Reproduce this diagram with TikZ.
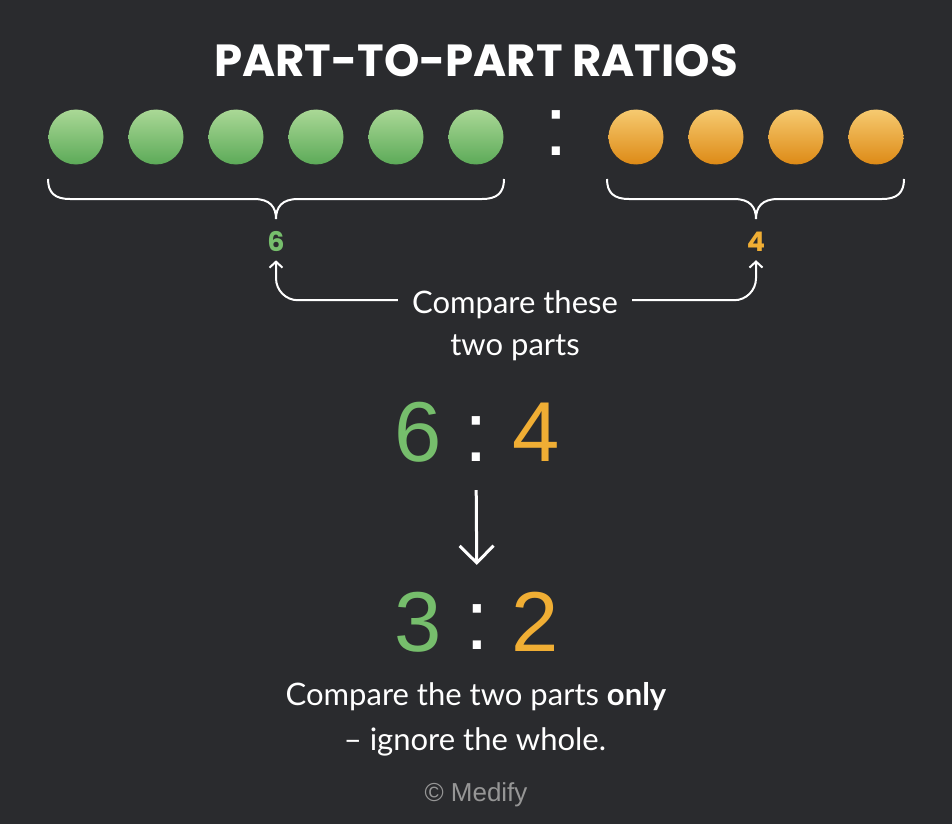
\documentclass[tikz,border=0pt]{standalone}
\usepackage{fontspec}
\setmainfont{Liberation Sans}
\newfontfamily\titlefont{Poppins}
\newfontfamily\handfont{Lato}
\usetikzlibrary{arrows.meta}
\definecolor{bgdark}{RGB}{42,43,46}
\definecolor{greentop}{RGB}{170,216,150}
\definecolor{greenbot}{RGB}{92,170,88}
\definecolor{ambertop}{RGB}{246,202,112}
\definecolor{amberbot}{RGB}{221,138,22}
\definecolor{greentxt}{RGB}{118,190,108}
\definecolor{ambertxt}{RGB}{240,174,52}
\definecolor{creditgray}{RGB}{150,150,150}

\begin{document}
\begin{tikzpicture}[x=1pt,y=-1pt]
		\tikzset{ball/.style = {shape=circle,minimum size=55pt,inner sep=0pt}}
		\tikzset{gball/.style = {ball,top color=greentop,bottom color=greenbot}}
		\tikzset{oball/.style = {ball,top color=ambertop,bottom color=amberbot}}
		\tikzset{count/.style = {inner sep=0pt,anchor=base,font=\titlefont\bfseries\fontsize{27}{30}\selectfont}}
		\tikzset{big/.style = {inner sep=0pt,anchor=base,font=\fontsize{85}{90}\selectfont}}
		\tikzset{hand/.style = {inner sep=0pt,anchor=base,text=white,font=\handfont\fontsize{31}{36}\selectfont}}
		\tikzset{brace/.style = {draw=white,line width=2pt}}
		\tikzset{pointer/.style = {draw=white,line width=2pt,-{Straight Barb[length=6pt,width=13pt]},rounded corners=22pt}}
		\fill[bgdark] (0,0) rectangle (952,824);
		\useasboundingbox (0,0) rectangle (952,824);
		\node[anchor=base,text=white,font=\titlefont\bfseries\fontsize{45}{50}\selectfont] (ttl) at (476,77) {PART-TO-PART RATIOS};
		\foreach \i in {1,...,6} \node[gball] (g\i) at ({-4+80*\i},137) {};
		\foreach \i in {1,...,4} \node[oball] (o\i) at ({556+80*\i},137) {};
		\node[big,text=white] (sep) at (556,155) {:};
		% braces
		\draw[brace] (48,179) .. controls (48,193) and (55,199) .. (70,199) -- (254,199)
			.. controls (270,199) and (276,207) .. (276,219) .. controls (276,207) and (282,199) .. (298,199)
			-- (482,199) .. controls (497,199) and (504,193) .. (504,179);
		\draw[brace] (607,179) .. controls (607,193) and (614,199) .. (629,199) -- (734,199)
			.. controls (750,199) and (756,207) .. (756,219) .. controls (756,207) and (762,199) .. (778,199)
			-- (882,199) .. controls (897,199) and (904,193) .. (904,179);
		\node[count,text=greentxt] (n6) at (276,251) {6};
		\node[count,text=ambertxt] (n4) at (756,251) {4};
		\node[hand] (cmp1) at (515,313) {Compare these};
		\node[hand] (cmp2) at (515,355) {two parts};
		\path[pointer] ([xshift=-14pt,yshift=4pt]cmp1.west) -| ([yshift=-9pt]n6.south);
		\path[pointer] ([xshift=14pt,yshift=4pt]cmp1.east) -| ([yshift=-9pt]n4.south);
		% ratios
		\node[big,text=greentxt] (r6) at (418,461) {6};
		\node[big,text=white] (c1) at (476,461) {:};
		\node[big,text=ambertxt] (r4) at (536,461) {4};
		\node[big,text=greentxt] (r3) at (418,651) {3};
		\node[big,text=white] (c2) at (477,649) {:};
		\node[big,text=ambertxt] (r2) at (535,651) {2};
		\draw[white,line width=3pt,-{Straight Barb[length=17pt,width=34pt]},shorten <=29pt,shorten >=39pt] (c1.south) -- (c2.north);
		\node[hand] (note1) at (476,705) {Compare the two parts {\bfseries only}};
		\node[hand] (note2) at (475,750) {– ignore the whole.};
		\node[anchor=base,text=creditgray,font=\fontsize{26}{30}\selectfont] (credit) at (476,801) {© Medify};
	\end{tikzpicture}
\end{document}
